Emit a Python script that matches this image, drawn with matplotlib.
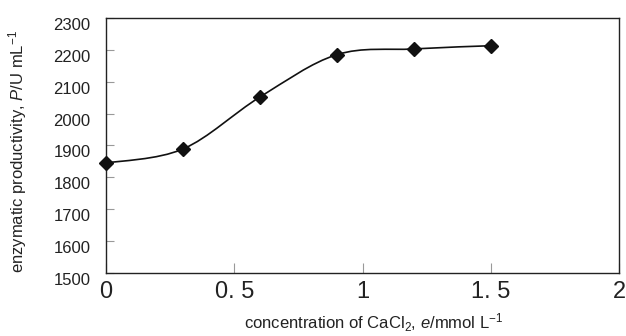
import numpy as np
import matplotlib
matplotlib.use("Agg")
import matplotlib.pyplot as plt
import matplotlib.transforms as mtransforms
from matplotlib.path import Path
from matplotlib.patches import PathPatch

plt.rcParams['font.family'] = ['Liberation Sans', 'DejaVu Sans']
plt.rcParams['mathtext.fontset'] = 'custom'
plt.rcParams['mathtext.rm'] = 'Liberation Sans'
plt.rcParams['mathtext.it'] = 'Liberation Sans:italic'

# data
conc = [0, 0.3, 0.6, 0.9, 1.2, 1.5]
productivity = [1845, 1889, 2052, 2185, 2203, 2213]
xticks = [0, 0.5, 1, 1.5, 2]
xticklabels = ['0', '0. 5', '1', '1. 5', '2']
yticks = [1500, 1600, 1700, 1800, 1900, 2000, 2100, 2200, 2300]

fig = plt.figure(figsize=(6.26, 3.36), dpi=100)
ax = fig.add_axes([106 / 626, 1 - 273 / 336, (619 - 106) / 626, (273 - 18) / 336])

# smoothed line like a spreadsheet chart (bezier segments through the points)
x = np.array(conc, dtype=float)
y = np.array(productivity, dtype=float)
verts = [(x[0], y[0])]
codes = [Path.MOVETO]
n = len(x)
for i in range(n - 1):
    x0, y0 = (x[i - 1], y[i - 1]) if i > 0 else (x[i], y[i])
    x3, y3 = (x[i + 2], y[i + 2]) if i + 2 < n else (x[i + 1], y[i + 1])
    c1 = (x[i] + (x[i + 1] - x0) / 6, y[i] + (y[i + 1] - y0) / 6)
    c2 = (x[i + 1] - (x3 - x[i]) / 6, y[i + 1] - (y3 - y[i]) / 6)
    verts += [c1, c2, (x[i + 1], y[i + 1])]
    codes += [Path.CURVE4] * 3
ax.add_patch(PathPatch(Path(verts, codes), fill=False, lw=1.2, color='#111111'))
ax.plot(conc, productivity, 'D', color='#111111', ms=7, clip_on=False, zorder=3)

ax.set_xlim(0, 2)
ax.set_ylim(1500, 2300)
ax.set_xticks(xticks)
ax.set_xticklabels(xticklabels, fontsize=17, color='#222222')
ax.set_yticks(yticks)
ax.tick_params(axis='y', direction='in', length=6, color='#999999', labelsize=12,
               labelcolor='#222222', pad=11)
ax.tick_params(axis='x', direction='in', length=7, color='#999999', pad=5.5)
for s in ax.spines.values():
    s.set_linewidth(1.0)
    s.set_color('#222222')

# y tick labels sit a little below their ticks in the original
shift = mtransforms.ScaledTranslation(0, -6 / 100, fig.dpi_scale_trans)
for lab in ax.get_yticklabels():
    lab.set_transform(lab.get_transform() + shift)

ax.set_ylabel('enzymatic productivity, $P$/U mL$^{-1}$', fontsize=12, color='#222222')
ax.set_xlabel('concentration of CaCl$_2$, $e$/mmol L$^{-1}$', fontsize=12, color='#222222')
ax.yaxis.set_label_coords(-0.150, 0.476)
ax.xaxis.set_label_coords(0.522, -0.152)

fig.savefig('out.png', dpi=100)
